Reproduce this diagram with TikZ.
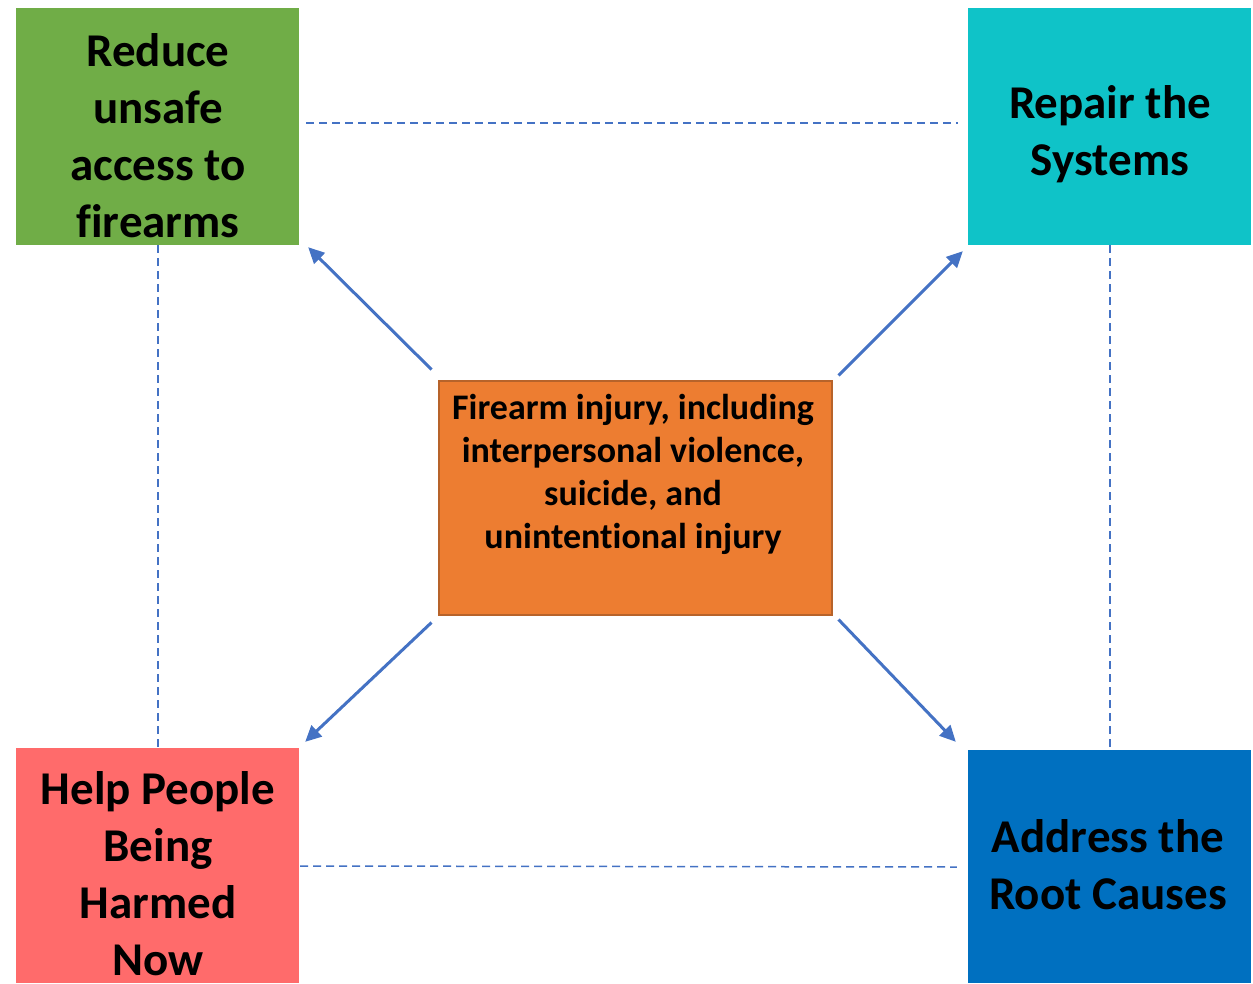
\documentclass[tikz,border=0pt]{standalone}
\usepackage{fontspec}
\setmainfont{Carlito}[Ligatures=NoCommon]
\usetikzlibrary{arrows.meta}
\definecolor{cgreen}{HTML}{70AD47}
\definecolor{cteal}{HTML}{0FC3C8}
\definecolor{cred}{HTML}{FF6B6B}
\definecolor{cblue}{HTML}{0070C0}
\definecolor{corange}{HTML}{ED7D31}
\definecolor{cborder}{HTML}{B7632A}
\definecolor{cline}{HTML}{4472C4}
\tikzset{
  box/.style={draw=none, inner sep=0pt, minimum width=283pt},
  bigtxt/.style={align=center, font=\fontsize{47}{57}\selectfont\bfseries, inner sep=0pt},
  midtxt/.style={align=center, font=\fontsize{36}{43}\selectfont\bfseries, inner sep=0pt},
  dashline/.style={draw=cline, line width=1.5pt, dash pattern=on 8pt off 5pt},
  arrowline/.style={draw=cline, line width=3pt, -{Triangle[length=16pt,width=15pt]}}
}
\begin{document}
\begin{tikzpicture}[x=1pt,y=-1pt]
\useasboundingbox (0,0) rectangle (1253,983);
\fill[white] (0,0) rectangle (1253,983);
% boxes
\node[box, fill=cgreen, minimum height=237pt] (g) at (157.5,126.5) {};
\node[box, fill=cteal, minimum height=237pt] (t) at (1109.5,126.5) {};
\node[box, fill=cred, minimum height=235pt] (r) at (157.5,865.5) {};
\node[box, fill=cblue, minimum height=233pt] (b) at (1109.5,866.5) {};
\node[draw=cborder, line width=2pt, fill=corange, minimum width=393pt, minimum height=234pt, inner sep=0pt] (c) at (635,497.5) {};
% texts
\node[bigtxt] (gt) at (158,136) {Reduce\\unsafe\\access to\\firearms};
\node[bigtxt] (tt) at (1110,134) {Repair the\\Systems};
\node[bigtxt] (rt) at (158,874) {Help People\\Being\\Harmed\\Now};
\node[bigtxt] (bt) at (1108,865) {Address the\\Root Causes};
\node[midtxt] (ct) at (633,474) {Firearm injury, including\\interpersonal violence,\\suicide, and\\unintentional injury};
% dashed links
\draw[dashline] ([shift={(7,-3.5)}]g.east) -- ([shift={(-10,-3.5)}]t.west);
\draw[dashline] ([shift={(1,0.5)}]r.east) -- ([shift={(-11,0.5)}]b.west);
\draw[dashline] ([shift={(0.5,0)}]g.south) -- ([shift={(0.5,0)}]r.north);
\draw[dashline] ([shift={(0.5,0)}]t.south) -- ([shift={(0.5,0)}]b.north);
% arrows
\draw[arrowline] ([shift={(-6,-10)}]c.north west) -- ([shift={(9,2)}]g.south east);
\draw[arrowline] ([shift={(6,-4)}]c.north east) -- ([shift={(-5,6)}]t.south west);
\draw[arrowline] ([shift={(-6,7)}]c.south west) -- ([shift={(6,-6)}]r.north east);
\draw[arrowline] ([shift={(6,4)}]c.south east) -- ([shift={(-12,-8)}]b.north west);
\end{tikzpicture}
\end{document}
